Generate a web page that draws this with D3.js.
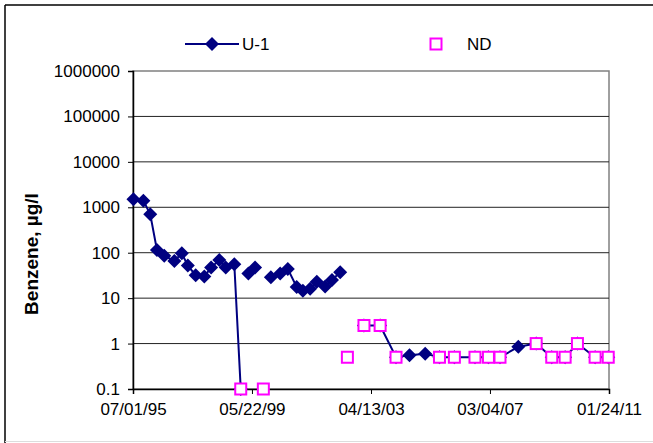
<!DOCTYPE html>
<html>
<head>
<meta charset="utf-8">
<script src="https://cdn.jsdelivr.net/npm/d3@7"></script>
<style>
  body { margin: 0; background: #fff; }
  svg text { font-family: Arial, "Liberation Sans", sans-serif; }
</style>
</head>
<body>
<svg width="653" height="443"></svg>
<script>
// sample dates and readings
var dates = ["1995-07-06", "1995-11-02", "1996-01-23", "1996-04-12", "1996-07-08", "1996-11-06",
    "1997-02-03", "1997-04-16", "1997-07-19", "1997-10-30", "1998-01-19", "1998-04-27",
    "1998-07-13", "1998-10-23", "1999-01-08", "1999-04-09", "1999-06-28", "1999-10-05",
    "2000-01-03", "2000-04-23", "2000-07-23", "2000-11-06", "2001-01-19", "2001-04-16",
    "2001-07-05", "2001-10-12", "2002-01-02", "2002-04-10", "2002-07-05", "2003-01-19",
    "2003-07-31", "2004-02-06", "2004-07-16", "2005-01-19", "2005-07-09", "2006-01-03",
    "2006-09-06", "2007-02-14", "2007-07-02", "2008-02-06", "2008-09-06", "2009-03-11",
    "2009-08-18", "2010-01-12", "2010-08-11", "2011-01-15"];

var u1 = [1500, 1400, 700, 115, 86, 66, 97, 52, 32, 30, 47, 69,
    47, 56, 0.1, 35, 47, null, 29, 35, 44, 17.6, 14.6, 16,
    23, 18, 25, 37, null, 2.5, 2.5, 0.5, 0.55, 0.6, 0.5, 0.5,
    0.5, 0.5, 0.5, 0.85, 1, 0.5, 0.5, 1, 0.5, 0.5];

var nd = [null, null, null, null, null, null, null, null, null, null, null, null,
    null, null, 0.1, null, null, 0.1, null, null, null, null, null, null,
    null, null, null, null, 0.5, 2.5, 2.5, 0.5, null, null, 0.5, 0.5,
    0.5, 0.5, 0.5, null, 1, 0.5, 0.5, 1, 0.5, 0.5];

// the U-1 line is not drawn after these indices
var u1Breaks = [14];

var xTickLabels = ["07/01/95", "05/22/99", "04/13/03", "03/04/07", "01/24/11"];
var yTickValues = [0.1, 1, 10, 100, 1000, 10000, 100000, 1000000];
var seriesNames = ["U-1", "ND"];
var yTitle = "Benzene, \u00b5g/l";

(function(d3) {
    "use strict";

    var svg = d3.select("svg"),
        navy = "#000080",
        pink = "#ff00ff",
        left = 133, right = 609, top = 71, bottom = 389,
        parseTick = d3.timeParse("%m/%d/%y"),
        parseDate = d3.timeParse("%Y-%m-%d"),
        tickDates = xTickLabels.map(parseTick),

        x = d3.scaleTime().domain([tickDates[0], tickDates[tickDates.length - 1]]).range([left, right]),
        y = d3.scaleLog().domain([0.1, 1000000]).range([bottom, top]),

        rows = dates.map(function(d, i) {
            return { date: parseDate(d), u1: u1[i], nd: nd[i], brk: u1Breaks.indexOf(i) >= 0 };
        });

    // outer chart frame
    svg.append("line").attr("x1", 5).attr("y1", 5).attr("x2", 653).attr("y2", 5).attr("stroke", "#000").attr("stroke-width", 1.5);
    svg.append("line").attr("x1", 5).attr("y1", 5).attr("x2", 5).attr("y2", 443).attr("stroke", "#000").attr("stroke-width", 1.5);
    svg.append("line").attr("x1", 5).attr("y1", 441.5).attr("x2", 653).attr("y2", 441.5).attr("stroke", "#ddd");

    // plot area border (top & right gray)
    svg.append("rect").attr("x", left).attr("y", top).attr("width", right - left).attr("height", bottom - top)
        .attr("fill", "none").attr("stroke", "#808080").attr("stroke-width", 1.5);

    // gridlines
    svg.append("g").selectAll("line").data(yTickValues.slice(1, -1)).enter().append("line")
        .attr("x1", left).attr("x2", right)
        .attr("y1", function(d) { return y(d); }).attr("y2", function(d) { return y(d); })
        .attr("stroke", "#222").attr("stroke-width", 1);

    // axes
    var yAxis = svg.append("g").attr("transform", "translate(" + left + ",0)")
        .call(d3.axisLeft(y).tickValues(yTickValues).tickSize(5).tickPadding(8)
            .tickFormat(function(d) { return d < 1 ? "0.1" : d3.format("d")(d); }));
    var xAxis = svg.append("g").attr("transform", "translate(0," + bottom + ")")
        .call(d3.axisBottom(x).tickValues(tickDates).tickSize(5).tickPadding(9)
            .tickFormat(function(d, i) { return xTickLabels[i]; }));

    [yAxis, xAxis].forEach(function(a) {
        a.select(".domain").attr("stroke", "#000").attr("stroke-width", 1.5);
        a.selectAll(".tick line").attr("stroke", "#000");
        a.selectAll("text").attr("font-size", 17).attr("fill", "#000").attr("font-family", "Arial, 'Liberation Sans', sans-serif");
    });

    // y title
    svg.append("text").attr("transform", "translate(38,254) rotate(-90)")
        .attr("text-anchor", "middle").attr("font-size", 19).attr("font-weight", "bold")
        .text(yTitle);

    // U-1 line, split into runs at nulls and breaks
    var runs = [], cur = [];
    rows.forEach(function(r) {
        if (r.u1 == null) {
            if (cur.length) runs.push(cur);
            cur = [];
            return;
        }
        cur.push(r);
        if (r.brk) {
            runs.push(cur);
            cur = [];
        }
    });
    if (cur.length) runs.push(cur);

    var line = d3.line().x(function(d) { return x(d.date); }).y(function(d) { return y(d.u1); });

    svg.append("g").selectAll("path").data(runs).enter().append("path")
        .attr("d", line).attr("fill", "none").attr("stroke", navy).attr("stroke-width", 2);

    var diamond = "M0,-7L7,0L0,7L-7,0Z";

    svg.append("g").selectAll("path").data(rows.filter(function(r) { return r.u1 != null; })).enter().append("path")
        .attr("d", diamond).attr("fill", navy)
        .attr("transform", function(d) { return "translate(" + x(d.date) + "," + y(d.u1) + ")"; });

    // ND squares drawn over
    svg.append("g").selectAll("rect").data(rows.filter(function(r) { return r.nd != null; })).enter().append("rect")
        .attr("x", function(d) { return x(d.date) - 5.5; }).attr("y", function(d) { return y(d.nd) - 5.5; })
        .attr("width", 11).attr("height", 11)
        .attr("fill", "#fff").attr("stroke", pink).attr("stroke-width", 2);

    // legend
    var lg = svg.append("g");
    lg.append("line").attr("x1", 185).attr("x2", 239).attr("y1", 44).attr("y2", 44).attr("stroke", navy).attr("stroke-width", 2);
    lg.append("path").attr("d", diamond).attr("fill", navy).attr("transform", "translate(212,44)");
    lg.append("text").attr("x", 242).attr("y", 50).attr("font-size", 17).text(seriesNames[0]);
    lg.append("rect").attr("x", 430.5).attr("y", 38.5).attr("width", 11).attr("height", 11)
        .attr("fill", "#fff").attr("stroke", pink).attr("stroke-width", 2);
    lg.append("text").attr("x", 467).attr("y", 50).attr("font-size", 17).text(seriesNames[1]);

}(d3));
</script>
</body>
</html>
